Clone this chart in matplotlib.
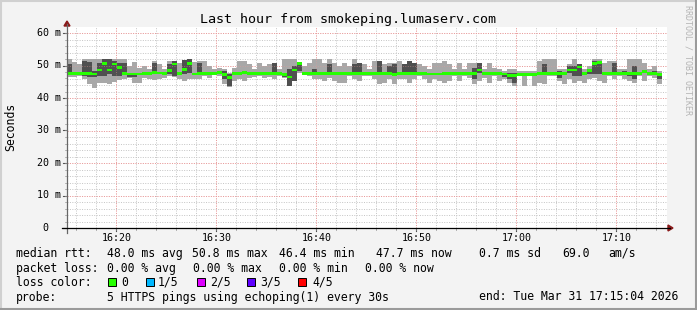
import numpy as np
import matplotlib
matplotlib.use("Agg")
import matplotlib.pyplot as plt
from matplotlib.lines import Line2D
from matplotlib.patches import Polygon, Rectangle

# ---------------- data (ms), one value per 30 s step from 16:15:04 ----------------
rtt_max = [52.0, 51.1, 50.4, 51.9, 51.9, 52.1, 52.1, 52.1, 51.9, 51.9,
           51.9, 51.9, 49.8, 51.1, 49.3, 49.8, 48.8, 51.4, 50.4, 48.8,
           51.4, 51.4, 50.9, 51.7, 51.9, 51.1, 51.4, 51.4, 49.8, 48.8,
           49.3, 48.8, 47.8, 49.3, 51.4, 51.4, 50.4, 48.8, 50.9, 49.8,
           50.4, 50.9, 48.8, 51.9, 51.9, 51.9, 50.9, 49.8, 50.9, 51.9,
           51.9, 50.9, 51.9, 50.9, 49.8, 50.9, 49.8, 51.9, 50.9, 50.4,
           48.8, 51.4, 51.4, 50.4, 50.9, 50.9, 51.4, 50.4, 51.4, 50.9,
           50.4, 49.8, 48.8, 50.9, 50.9, 51.4, 50.4, 48.8, 50.9, 48.8,
           50.9, 50.9, 50.9, 48.8, 50.9, 49.3, 48.8, 48.3, 48.8, 48.8,
           48.3, 48.3, 48.3, 48.3, 51.4, 51.9, 51.9, 51.9, 48.8, 48.8,
           50.4, 51.9, 50.4, 48.8, 49.8, 51.9, 51.9, 50.9, 51.4, 51.4,
           48.8, 48.8, 51.9, 51.9, 51.9, 50.9, 48.8, 49.8, 48.3]
rtt_p4 = [50.5, 48.0, 48.0, 51.5, 51.0, 48.3, 50.9, 52.0, 51.9, 51.4,
          50.9, 50.9, 47.8, 47.8, 47.8, 47.8, 47.8, 50.9, 48.0, 47.8,
          50.4, 51.4, 47.9, 51.7, 51.9, 47.8, 50.9, 48.0, 47.9, 47.8,
          48.0, 48.3, 47.5, 48.0, 47.9, 48.0, 47.8, 47.9, 47.9, 47.9,
          47.9, 50.9, 47.9, 47.4, 48.8, 49.8, 50.9, 47.9, 47.9, 48.8,
          47.9, 47.9, 50.4, 47.9, 47.9, 47.9, 47.9, 50.4, 50.9, 47.9,
          47.9, 47.9, 51.4, 47.9, 49.8, 50.4, 47.9, 50.4, 51.4, 50.9,
          47.9, 47.9, 47.8, 47.8, 47.8, 47.9, 47.9, 47.9, 47.9, 47.9,
          47.9, 49.3, 50.9, 47.9, 47.9, 47.9, 47.9, 47.8, 47.8, 47.8,
          47.6, 47.6, 47.6, 47.8, 47.9, 50.4, 47.9, 47.9, 48.3, 47.9,
          49.8, 49.8, 50.4, 47.9, 48.8, 51.4, 51.4, 47.9, 47.9, 50.9,
          47.9, 48.3, 47.9, 49.8, 47.9, 48.5, 47.9, 48.3, 47.6]
rtt_median = [47.6, 47.6, 47.6, 47.6, 47.5, 47.4, 48.6, 50.7, 48.6, 50.5,
              49.3, 47.6, 47.4, 47.4, 47.4, 47.5, 47.5, 47.9, 47.7, 47.5,
              48.5, 50.5, 47.6, 48.8, 50.6, 47.4, 47.6, 47.6, 47.6, 47.5,
              47.8, 47.2, 46.2, 47.6, 47.6, 47.8, 47.6, 47.6, 47.6, 47.6,
              47.6, 47.6, 47.6, 47.2, 46.5, 48.6, 50.7, 47.6, 47.6, 47.6,
              47.6, 47.6, 47.6, 47.6, 47.6, 47.6, 47.6, 47.6, 47.6, 47.6,
              47.6, 47.6, 47.6, 47.6, 47.6, 47.2, 47.6, 47.6, 47.6, 47.6,
              47.6, 47.5, 47.4, 47.4, 47.4, 47.6, 47.6, 47.6, 47.6, 47.6,
              47.6, 47.6, 48.6, 47.6, 47.6, 47.6, 47.5, 47.4, 47.0, 47.0,
              47.3, 47.3, 47.3, 47.3, 47.6, 47.6, 47.6, 47.6, 47.6, 47.6,
              48.6, 48.6, 49.5, 47.5, 48.5, 50.6, 50.9, 47.6, 47.6, 47.6,
              47.6, 47.6, 47.6, 47.6, 47.6, 48.2, 47.6, 47.6, 47.3]
rtt_p2 = [47.2, 47.3, 47.3, 46.8, 46.5, 46.5, 46.8, 46.8, 47.3, 46.8,
          46.8, 47.3, 46.6, 46.6, 47.0, 47.1, 47.1, 47.3, 47.3, 47.2,
          47.5, 46.8, 47.3, 47.3, 47.6, 47.1, 47.3, 47.3, 47.3, 47.2,
          47.5, 45.7, 43.7, 47.2, 47.3, 47.3, 47.3, 47.3, 47.3, 47.3,
          47.3, 47.3, 47.3, 46.6, 43.7, 45.2, 48.2, 47.3, 47.3, 47.3,
          47.3, 47.3, 47.3, 47.3, 47.3, 47.3, 47.3, 47.3, 47.3, 47.3,
          47.3, 47.3, 47.3, 47.3, 47.0, 47.0, 47.3, 47.3, 47.3, 47.3,
          47.3, 47.2, 47.1, 47.1, 47.1, 47.3, 47.3, 47.3, 47.3, 47.3,
          47.3, 45.7, 47.8, 47.3, 47.3, 47.3, 47.2, 46.6, 45.7, 44.7,
          47.0, 47.0, 47.0, 46.8, 47.3, 47.3, 47.3, 47.3, 46.3, 47.3,
          47.8, 46.8, 46.8, 47.2, 47.5, 47.3, 47.3, 47.3, 47.3, 47.3,
          47.3, 47.3, 46.8, 45.7, 47.3, 47.9, 47.3, 47.3, 45.7]
rtt_min = [46.6, 46.6, 46.8, 45.7, 44.2, 43.2, 44.5, 44.5, 44.2, 45.0,
           45.5, 45.7, 46.3, 44.5, 44.5, 46.3, 45.7, 45.5, 45.7, 46.3,
           46.8, 46.5, 45.7, 45.2, 45.7, 45.7, 45.7, 46.8, 46.3, 47.0,
           46.8, 44.2, 43.5, 45.2, 45.7, 45.2, 46.3, 46.6, 46.8, 46.3,
           46.6, 45.7, 46.8, 46.3, 43.7, 45.2, 47.8, 47.3, 46.8, 45.7,
           45.7, 45.2, 46.3, 45.2, 44.7, 44.7, 46.8, 45.7, 45.2, 46.8,
           46.8, 45.7, 44.2, 44.7, 45.7, 44.2, 45.7, 45.7, 44.7, 45.7,
           46.8, 45.7, 44.7, 45.7, 45.2, 44.7, 45.2, 46.8, 45.2, 46.8,
           46.3, 44.2, 45.2, 46.3, 44.7, 46.8, 45.2, 45.7, 44.7, 43.7,
           46.8, 43.7, 46.8, 43.7, 44.7, 44.2, 46.8, 46.8, 45.2, 44.2,
           45.7, 44.7, 45.2, 44.7, 45.7, 46.3, 45.2, 44.7, 46.8, 45.7,
           46.8, 45.7, 45.2, 44.7, 46.8, 45.2, 46.8, 46.3, 44.2]

step_minutes = 0.5
x_ticks_min = [4.9333, 14.9333, 24.9333, 34.9333, 44.9333, 54.9333]
x_tick_labels = ["16:20", "16:30", "16:40", "16:50", "17:00", "17:10"]
y_ticks = [0, 10, 20, 30, 40, 50, 60]
y_tick_labels = ["0  ", "10 m", "20 m", "30 m", "40 m", "50 m", "60 m"]

legend_rows = [
    [(16, "median rtt:"), (107, "48.0 ms avg"), (192, "50.8 ms max"),
     (279, "46.4 ms min"), (376, "47.7 ms now"), (479, "0.7 ms sd"),
     (562, "69.0"), (608, "am/s")],
    [(16, "packet loss:"), (107, "0.00 % avg"), (193, "0.00 % max"),
     (279, "0.00 % min"), (365, "0.00 % now")],
    [(16, "loss color:")],
    [(16, "probe:"), (107, "5 HTTPS pings using echoping(1) every 30s"),
     (479, "end: Tue Mar 31 17:15:04 2026")],
]
loss_labels = ["0", "1/5", "2/5", "3/5", "4/5"]
loss_colors = ["#26ff00", "#00b8ff", "#dd00ff", "#5e00ff", "#ff0000"]
loss_box_x = [108, 146, 197, 247, 298]
loss_text_x = [121, 158, 210, 260, 312]

# ---------------- figure ----------------
W, H = 697, 310
fig = plt.figure(figsize=(W / 100, H / 100), dpi=100, facecolor="#f3f3f3")
MONO = "DejaVu Sans Mono"

def fx(x):
    return x / W

def fy(y):
    return 1 - y / H

L, R, T, B = 67, 667, 27, 228
ax = fig.add_axes([fx(L), fy(B), (R - L) / W, (B - T) / H])
ax.set_facecolor("white")
ymax = (B - T) / 3.25
ax.set_xlim(0, 60)
ax.set_ylim(0, ymax)

n = len(rtt_median)
edges = np.arange(n + 1) * step_minutes
hi = np.array(rtt_max)
p4 = np.array(rtt_p4)
med = np.array(rtt_median)
p2 = np.array(rtt_p2)
lo = np.array(rtt_min)

light = "#a8a8a8"
dark = "#505050"
kw = dict(fill=True, linewidth=0, antialiased=False)
ax.stairs(p2, edges, baseline=lo, color=light, zorder=2, **kw)
ax.stairs(p4, edges, baseline=p2, color=dark, zorder=2, **kw)
ax.stairs(hi, edges, baseline=p4, color=light, zorder=2, **kw)

# grid
minor_x = np.arange(0.9333, 60, 2)
for xv in minor_x:
    if any(abs(xv - t) < 0.01 for t in x_ticks_min):
        continue
    ax.axvline(xv, color="#c4c4c4", lw=0.7, ls=(0, (1, 1.5)), zorder=1)
for yv in np.arange(2, 62, 2):
    if yv % 10 == 0:
        continue
    ax.axhline(yv, color="#c4c4c4", lw=0.7, ls=(0, (1, 1.5)), zorder=1)
for xv in x_ticks_min:
    ax.axvline(xv, color="#e89a9a", lw=0.7, ls=(0, (1, 1.5)), zorder=1)
    ax.axvline(xv, color="#e89a9a", lw=0.7, ls=(0, (1, 1.5)), zorder=3, alpha=0.45)
for yv in y_ticks[1:]:
    ax.axhline(yv, color="#e89a9a", lw=0.7, ls=(0, (1, 1.5)), zorder=1)
    ax.axhline(yv, color="#e89a9a", lw=0.7, ls=(0, (1, 1.5)), zorder=3, alpha=0.45)

# median
ax.stairs(med + 0.42, edges, baseline=med - 0.42, color=loss_colors[0], zorder=4, **kw)

for s in ax.spines.values():
    s.set_visible(False)
ax.set_xticks([])
ax.set_yticks([])

# ticks and labels
for xv, lab in zip(x_ticks_min, x_tick_labels):
    xp = L + xv * 10
    fig.add_artist(Line2D([fx(xp), fx(xp)], [fy(B), fy(B + 3)], color="#555555", lw=0.8))
    fig.text(fx(xp), fy(238), lab, family=MONO, fontsize=7.2, ha="center", va="center", color="#000000")
for xv in minor_x:
    xp = L + xv * 10
    fig.add_artist(Line2D([fx(xp), fx(xp)], [fy(B), fy(B + 2)], color="#888888", lw=0.5))
for yv, lab in zip(y_ticks, y_tick_labels):
    yp = B - yv * 3.25
    fig.add_artist(Line2D([fx(L - 4), fx(L)], [fy(yp), fy(yp)], color="#555555", lw=0.8))
    fig.text(fx(61), fy(yp), lab, family=MONO, fontsize=7.2, ha="right", va="center", color="#000000")
for yv in np.arange(2, 62, 2):
    yp = B - yv * 3.25
    fig.add_artist(Line2D([fx(L - 2), fx(L)], [fy(yp), fy(yp)], color="#999999", lw=0.5))

# axis lines with arrows
fig.add_artist(Line2D([fx(L), fx(L)], [fy(B + 5), fy(24)], color="#666666", lw=0.9))
fig.add_artist(Line2D([fx(L - 5), fx(R + 3)], [fy(B), fy(B)], color="#000000", lw=0.9))
fig.add_artist(Polygon([[fx(L - 3), fy(26)], [fx(L + 3), fy(26)], [fx(L), fy(21)]],
                       closed=True, color="#8b1a1a", transform=fig.transFigure))
fig.add_artist(Polygon([[fx(R + 1), fy(B - 3)], [fx(R + 1), fy(B + 3)], [fx(R + 6), fy(B)]],
                       closed=True, color="#8b1a1a", transform=fig.transFigure))

# titles
fig.text(fx(348), fy(19), "Last hour from smokeping.lumaserv.com", family=MONO,
         fontsize=9.6, ha="center", va="center", color="#000000")
fig.text(fx(11), fy(127), "Seconds", family=MONO, fontsize=8.3, rotation=90,
         ha="center", va="center", color="#000000")
fig.text(fx(688), fy(60), "RRDTOOL / TOBI OETIKER", family=MONO, fontsize=6.0,
         rotation=270, ha="center", va="center", color="#b4b4b4")

# legend
row_y = [253.5, 268.5, 282, 297]
for ry, row in zip(row_y, legend_rows):
    for xp, txt in row:
        fig.text(fx(xp), fy(ry), txt, family=MONO, fontsize=8.3, ha="left",
                 va="center", color="#000000")
for bx, tx, lab, col in zip(loss_box_x, loss_text_x, loss_labels, loss_colors):
    fig.add_artist(Rectangle((fx(bx), fy(285.5)), 7.5 / W, 7.5 / H, facecolor=col,
                             edgecolor="#000000", lw=0.7, transform=fig.transFigure))
    fig.text(fx(tx), fy(282), lab, family=MONO, fontsize=8.3, ha="left", va="center",
             color="#000000")

# frame
fig.add_artist(Line2D([0, 1], [fy(0.5), fy(0.5)], color="#d0d0d0", lw=1.5))
fig.add_artist(Line2D([fx(0.5), fx(0.5)], [0, 1], color="#d0d0d0", lw=1.5))
fig.add_artist(Line2D([0, 1], [fy(309), fy(309)], color="#9a9a9a", lw=1.5))
fig.add_artist(Line2D([fx(696), fx(696)], [0, 1], color="#9a9a9a", lw=1.5))

fig.savefig("out.png", dpi=100, facecolor=fig.get_facecolor())
